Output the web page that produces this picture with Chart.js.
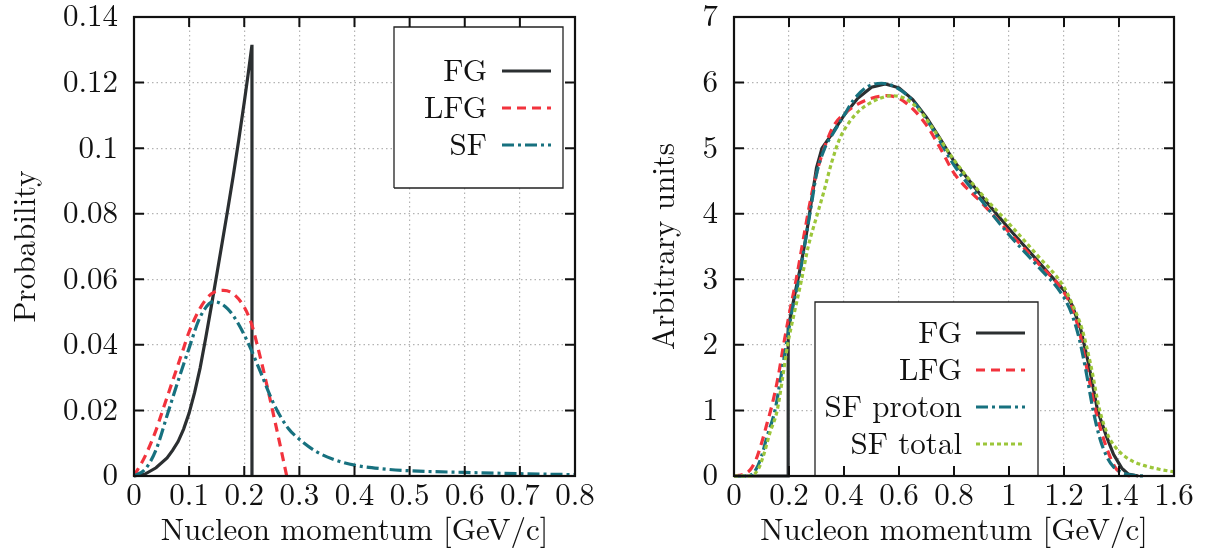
<!DOCTYPE html>
<html>
<head>
<meta charset="utf-8">
<script src="https://cdn.jsdelivr.net/npm/chart.js@4.4.1/dist/chart.umd.min.js"></script>
<style>
  html, body { margin: 0; padding: 0; background: #fff; }
  #wrap { position: relative; width: 1205px; height: 556px; }
  .panel { position: absolute; top: 0; height: 556px; }
</style>
</head>
<body>
<div id="wrap">
  <div class="panel" style="left:0;width:600px"><canvas id="left" width="600" height="556"></canvas></div>
  <div class="panel" style="left:600px;width:605px"><canvas id="right" width="605" height="556"></canvas></div>
</div>
<script>
/* ===== Left panel: momentum distributions (probability) ===== */
const leftXTicks = [0, 0.1, 0.2, 0.3, 0.4, 0.5, 0.6, 0.7, 0.8];
const leftYTicks = [0, 0.02, 0.04, 0.06, 0.08, 0.1, 0.12, 0.14];

const fgP    = [0, 0.02, 0.04, 0.06, 0.07, 0.08, 0.09, 0.1, 0.11, 0.12, 0.13, 0.14, 0.15, 0.16, 0.17, 0.18, 0.19, 0.2, 0.207, 0.214, 0.214];
const fgProb = [0, 0.0006, 0.0025, 0.0055, 0.0078, 0.0105, 0.0143, 0.0192, 0.0255, 0.033, 0.042, 0.0515, 0.0613, 0.0712, 0.0812, 0.0915, 0.1025, 0.114, 0.1225, 0.1315, 0];

const lfgP    = [0, 0.02, 0.04, 0.05, 0.07, 0.09, 0.1, 0.12, 0.14, 0.162, 0.18, 0.2, 0.213, 0.225, 0.24, 0.252, 0.265, 0.277];
const lfgProb = [0, 0.006, 0.014, 0.019, 0.029, 0.039, 0.044, 0.0512, 0.0555, 0.0566, 0.0556, 0.0515, 0.0465, 0.039, 0.0285, 0.0195, 0.0095, 0];

const sfP    = [0, 0.02, 0.04, 0.061, 0.08, 0.1, 0.12, 0.145, 0.17, 0.19, 0.21, 0.23, 0.255, 0.28, 0.3, 0.33, 0.36, 0.4, 0.45, 0.5, 0.6, 0.7, 0.8];
const sfProb = [0, 0.002, 0.008, 0.019, 0.029, 0.039, 0.0485, 0.0532, 0.051, 0.0462, 0.0395, 0.0315, 0.0215, 0.0145, 0.0112, 0.0075, 0.0052, 0.0033, 0.0022, 0.0016, 0.0011, 0.0007, 0.0004];

/* ===== Right panel: arbitrary units ===== */
const rightXTicks = [0, 0.2, 0.4, 0.6, 0.8, 1, 1.2, 1.4, 1.6];
const rightYTicks = [0, 1, 2, 3, 4, 5, 6, 7];

const rFgP = [0, 0.197, 0.197, 0.22, 0.24, 0.26, 0.28, 0.3, 0.32, 0.35, 0.4, 0.45, 0.5, 0.55, 0.6, 0.65, 0.7, 0.75, 0.8, 0.9, 1.0, 1.1, 1.2, 1.23, 1.26, 1.29, 1.322, 1.353, 1.38, 1.41, 1.433, 1.47];
const rFgV = [0, 0, 2.25, 2.75, 3.15, 3.6, 4.15, 4.7, 5.0, 5.18, 5.5, 5.76, 5.93, 5.98, 5.92, 5.74, 5.47, 5.14, 4.8, 4.27, 3.77, 3.3, 2.83, 2.6, 2.25, 1.7, 1.0, 0.62, 0.33, 0.12, 0.03, 0];

const rLfgP = [0, 0.03, 0.058, 0.08, 0.1, 0.12, 0.137, 0.16, 0.179, 0.2, 0.228, 0.26, 0.288, 0.32, 0.361, 0.4, 0.45, 0.5, 0.555, 0.6, 0.65, 0.7, 0.75, 0.8, 0.9, 1.0, 1.1, 1.2, 1.23, 1.256, 1.285, 1.315, 1.345, 1.385, 1.41, 1.44];
const rLfgV = [0, 0.02, 0.09, 0.25, 0.5, 0.8, 1.06, 1.5, 1.97, 2.45, 3.04, 3.8, 4.41, 4.9, 5.33, 5.52, 5.67, 5.76, 5.8, 5.76, 5.6, 5.35, 5.0, 4.62, 4.17, 3.72, 3.27, 2.8, 2.55, 2.2, 1.6, 1.0, 0.55, 0.14, 0.04, 0];

const rSfpP = [0, 0.05, 0.08, 0.1, 0.12, 0.149, 0.17, 0.189, 0.21, 0.238, 0.26, 0.28, 0.3, 0.33, 0.361, 0.4, 0.434, 0.482, 0.537, 0.6, 0.65, 0.7, 0.75, 0.8, 0.9, 1.0, 1.1, 1.2, 1.23, 1.255, 1.28, 1.306, 1.33, 1.355, 1.38, 1.42, 1.46, 1.5];
const rSfpV = [0, 0, 0.1, 0.3, 0.6, 1.0, 1.5, 1.97, 2.5, 3.04, 3.6, 4.1, 4.6, 5.0, 5.23, 5.5, 5.73, 5.93, 5.99, 5.9, 5.72, 5.44, 5.1, 4.74, 4.2, 3.68, 3.22, 2.72, 2.45, 2.1, 1.6, 1.0, 0.58, 0.3, 0.14, 0.04, 0.008, 0];

const rSftP = [0, 0.06, 0.09, 0.11, 0.13, 0.157, 0.175, 0.195, 0.22, 0.246, 0.27, 0.3, 0.325, 0.355, 0.385, 0.42, 0.458, 0.5, 0.531, 0.57, 0.62, 0.67, 0.72, 0.8, 0.9, 1.0, 1.1, 1.2, 1.23, 1.265, 1.297, 1.33, 1.36, 1.385, 1.415, 1.452, 1.5, 1.55, 1.597];
const rSftV = [0, 0, 0.12, 0.35, 0.65, 1.0, 1.45, 2.0, 2.5, 3.0, 3.5, 3.95, 4.31, 4.78, 5.15, 5.4, 5.58, 5.7, 5.76, 5.8, 5.76, 5.6, 5.32, 4.82, 4.3, 3.85, 3.38, 2.88, 2.62, 2.25, 1.7, 1.0, 0.62, 0.45, 0.32, 0.22, 0.15, 0.1, 0.066];

const FONT = '"Latin Modern Roman", "Liberation Serif", "DejaVu Serif", serif';
const C_BLACK = '#2b2f31';
const C_RED   = '#f2333d';
const C_TEAL  = '#17717f';
const C_GREEN = '#9cc63a';

Chart.defaults.font.family = FONT;
Chart.defaults.font.size = 31;
Chart.defaults.color = '#111';

const toXY = (xs, ys) => xs.map((x, i) => ({ x: x, y: ys[i] }));

function series(label, xs, ys, color, dash, order, smooth) {
  return {
    label: label,
    data: toXY(xs, ys),
    borderColor: color,
    backgroundColor: color,
    borderWidth: 3.2,
    borderDash: dash,
    pointRadius: 0,
    showLine: true,
    fill: false,
    clip: false,
    order: order,
    tension: smooth ? 0.4 : 0,
    cubicInterpolationMode: smooth ? 'monotone' : 'default'
  };
}

// frame, inward ticks and legend box drawn on top of the chart area
const framePlugin = {
  id: 'frame',
  beforeDatasetsDraw(chart, args, o) {
    const ctx = chart.ctx;
    const L = o.legend;
    ctx.save();
    ctx.fillStyle = '#fff';
    ctx.fillRect(L.x, L.y, L.w, L.h);
    ctx.strokeStyle = '#222';
    ctx.lineWidth = 1.3;
    ctx.beginPath();
    ctx.moveTo(L.x, L.y + L.h);
    ctx.lineTo(L.x, L.y);
    ctx.lineTo(L.x + L.w, L.y);
    ctx.lineTo(L.x + L.w, L.y + L.h);
    if (L.closed) ctx.lineTo(L.x, L.y + L.h);
    ctx.stroke();
    ctx.restore();
  },
  afterDatasetsDraw(chart, args, o) {
    const ctx = chart.ctx;
    const a = chart.chartArea;
    const L = o.legend;
    ctx.save();
    // legend entries
    ctx.font = '31px ' + FONT;
    ctx.fillStyle = '#111';
    ctx.textAlign = 'right';
    ctx.textBaseline = 'middle';
    chart.data.datasets.forEach((ds, i) => {
      const y = L.rows[i];
      ctx.fillText(ds.label, L.textRight, y + 1);
      ctx.strokeStyle = ds.borderColor;
      ctx.lineWidth = ds.borderWidth;
      ctx.setLineDash(ds.borderDash || []);
      ctx.beginPath();
      ctx.moveTo(L.lineX1, y);
      ctx.lineTo(L.lineX2, y);
      ctx.stroke();
    });
    ctx.setLineDash([]);
    // inward tick marks on all four sides
    const tl = 10;
    ctx.strokeStyle = '#111';
    ctx.lineWidth = 2;
    ctx.beginPath();
    chart.scales.x.ticks.forEach(t => {
      const px = chart.scales.x.getPixelForValue(t.value);
      ctx.moveTo(px, a.bottom); ctx.lineTo(px, a.bottom - tl);
      ctx.moveTo(px, a.top);    ctx.lineTo(px, a.top + tl);
    });
    chart.scales.y.ticks.forEach(t => {
      const py = chart.scales.y.getPixelForValue(t.value);
      ctx.moveTo(a.left, py);  ctx.lineTo(a.left + tl, py);
      ctx.moveTo(a.right, py); ctx.lineTo(a.right - tl, py);
    });
    ctx.stroke();
    // frame
    ctx.lineWidth = 2.2;
    ctx.strokeRect(a.left, a.top, a.right - a.left, a.bottom - a.top);
    ctx.restore();
  }
};

function makeOptions(xTicks, yTicks, yTitle, yTitlePad, yMax, xMax, legend, rightPad) {
  const fmt = v => String(+v.toFixed(3));
  return {
    responsive: false,
    animation: false,
    devicePixelRatio: 1,
    layout: { padding: { left: 0, top: 17, right: rightPad, bottom: 0 } },
    plugins: {
      legend: { display: false },
      tooltip: { enabled: false },
      frame: { legend: legend }
    },
    scales: {
      x: {
        type: 'linear',
        min: 0, max: xMax,
        afterBuildTicks: s => { s.ticks = xTicks.map(v => ({ value: v })); },
        afterFit: s => { s.height = 80; s.paddingLeft = 0; s.paddingRight = 0; },
        ticks: { padding: 1, callback: fmt, maxRotation: 0, autoSkip: false },
        grid: { color: '#b3b3b3', lineWidth: 1.2, drawTicks: false },
        border: { display: false, dash: [1.5, 3] },
        title: { display: true, text: 'Nucleon momentum [GeV/c]', font: { size: 31 }, padding: { top: 0, bottom: 7 } }
      },
      y: {
        type: 'linear',
        min: 0, max: yMax,
        afterBuildTicks: s => { s.ticks = yTicks.map(v => ({ value: v })); },
        afterFit: s => { s.width = 134; s.paddingTop = 0; s.paddingBottom = 0; },
        ticks: { padding: 16, callback: fmt, autoSkip: false },
        grid: { color: '#b3b3b3', lineWidth: 1.2, drawTicks: false },
        border: { display: false, dash: [1.5, 3] },
        title: { display: true, text: yTitle, font: { size: 31 }, padding: { top: yTitlePad, bottom: 0 } }
      }
    }
  };
}

new Chart(document.getElementById('left'), {
  type: 'scatter',
  data: {
    datasets: [
      series('FG',  fgP,  fgProb,  C_BLACK, [],            3, false),
      series('LFG', lfgP, lfgProb, C_RED,   [9, 6],        2, true),
      series('SF',  sfP,  sfProb,  C_TEAL,  [12, 4, 3, 4], 1, true)
    ]
  },
  options: makeOptions(leftXTicks, leftYTicks, 'Probability', 7, 0.14, 0.8,
    { x: 394, y: 27, w: 169, h: 161, closed: true, textRight: 487, lineX1: 502, lineX2: 551, rows: [71, 108, 145] }, 25),
  plugins: [framePlugin]
});

new Chart(document.getElementById('right'), {
  type: 'scatter',
  data: {
    datasets: [
      series('FG',        rFgP,  rFgV,  C_BLACK, [],            4, false),
      series('LFG',       rLfgP, rLfgV, C_RED,   [9, 6],        3, true),
      series('SF proton', rSfpP, rSfpV, C_TEAL,  [12, 4, 3, 4], 2, true),
      series('SF total',  rSftP, rSftV, C_GREEN, [4, 3],        1, true)
    ]
  },
  options: makeOptions(rightXTicks, rightYTicks, 'Arbitrary units', 46, 7, 1.6,
    { x: 215, y: 302, w: 223, h: 174, closed: false, textRight: 362, lineX1: 376, lineX2: 425, rows: [333, 370, 407, 444] }, 31),
  plugins: [framePlugin]
});
</script>
</body>
</html>
